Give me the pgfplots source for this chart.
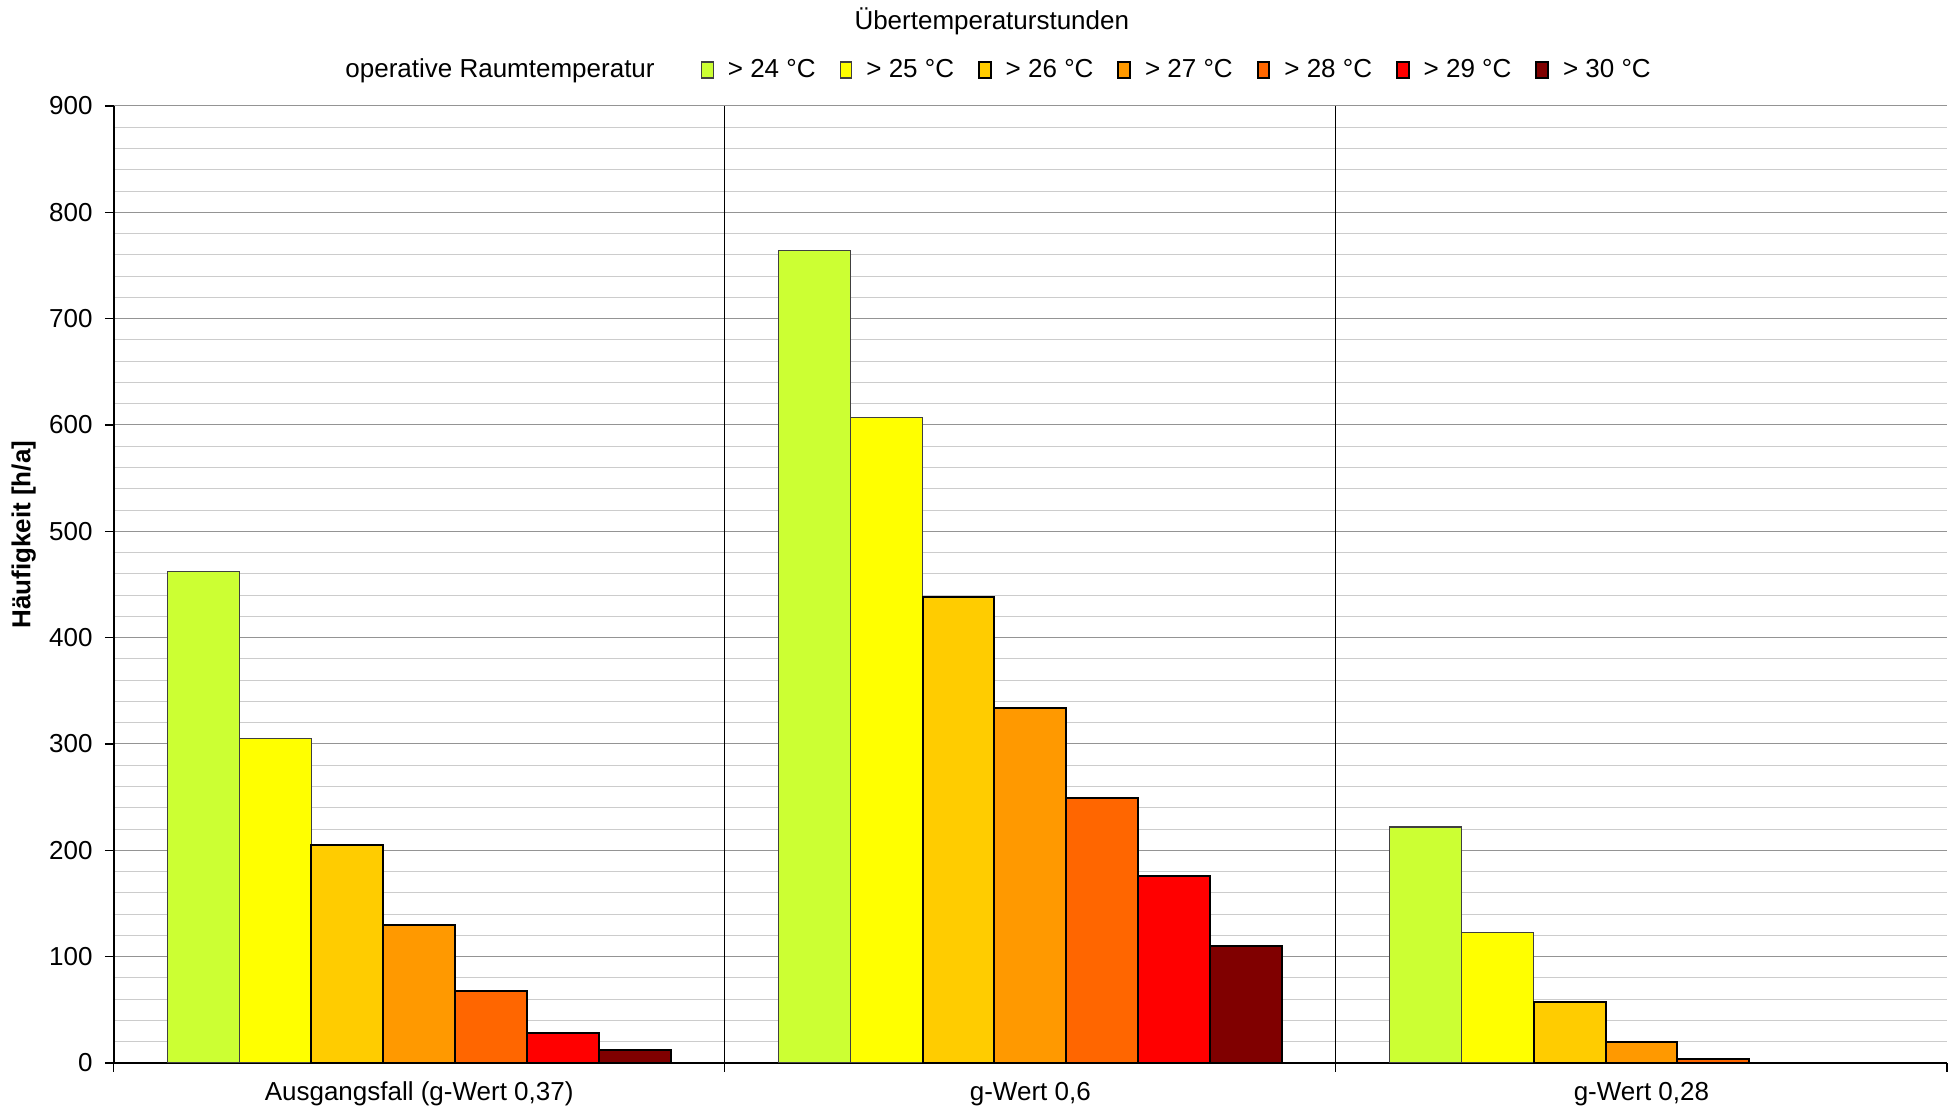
\documentclass[border=0pt]{standalone}
\usepackage{fontspec}
\setmainfont{Liberation Sans}
\usepackage{pgfplots}
\pgfplotsset{compat=1.18}

\definecolor{c24}{RGB}{204,255,51}
\definecolor{c25}{RGB}{255,255,0}
\definecolor{c26}{RGB}{255,204,0}
\definecolor{c27}{RGB}{255,153,0}
\definecolor{c28}{RGB}{255,102,0}
\definecolor{c29}{RGB}{255,0,0}
\definecolor{c30}{RGB}{128,0,0}

\newcommand{\fs}{\fontsize{13}{15}\selectfont}

\begin{document}
\begin{tikzpicture}
\begin{axis}[
    scale only axis,
    width=916.7pt, height=478.5pt,
    ybar=0pt, bar width=0.1176,
    xmin=-0.5, xmax=2.5,
    ymin=0, ymax=900,
    axis lines*=left,
    axis line style={black, line width=1pt},
    xtick={-0.5,0.5,1.5,2.5},
    xticklabels={},
    extra x ticks={0,1,2},
    extra x tick labels={{Ausgangsfall (g-Wert 0,37)}, {g-Wert 0,6}, {g-Wert 0,28}},
    extra x tick style={major tick length=0pt, xticklabel style={yshift=-6pt}},
    ytick={0,100,...,900},
    minor y tick num=4,
    minor tick length=0pt,
    major tick length=4.4pt,
    tick align=outside,
    tick style={black, line width=0.6pt},
    ymajorgrids, yminorgrids,
    major grid style={black!42, line width=0.5pt},
    minor grid style={black!20, line width=0.5pt},
    tick label style={font=\fs},
    yticklabel style={xshift=-2.6pt},
    /pgf/number format/assume math mode=true,
    title={Übertemperaturstunden},
    title style={at={(0.479,1.0756)}, anchor=center, font=\fs},
    ylabel={Häufigkeit [h/a]},
    ylabel style={at={(axis description cs:-0.049,0.552)}, anchor=center, font=\bfseries\fs},
    legend columns=-1,
    legend style={at={(0.4797,1.0376)}, anchor=center, draw=none, fill=none,
        font=\fs, inner sep=0pt,
        /tikz/every odd column/.append style={column sep=5pt},
        /tikz/every even column/.append style={column sep=10pt}},
    legend image code/.code={\draw[#1] (0pt,-4pt) rectangle (5.8pt,4pt);},
]
\addlegendimage{empty legend}
\addlegendentry{operative Raumtemperatur\hspace*{11.2pt}}

\addplot[fill=c24, draw=black!75, line width=0.6pt] coordinates {(0,462) (1,764) (2,222)};
\addlegendentry{> 24 °C}
\addplot[fill=c25, draw=black!75, line width=0.6pt] coordinates {(0,305) (1,607) (2,123)};
\addlegendentry{> 25 °C}
\addplot[fill=c26, draw=black, line width=1pt] coordinates {(0,205) (1,438) (2,57)};
\addlegendentry{> 26 °C}
\addplot[fill=c27, draw=black, line width=1pt] coordinates {(0,130) (1,334) (2,20)};
\addlegendentry{> 27 °C}
\addplot[fill=c28, draw=black, line width=1pt] coordinates {(0,68) (1,249) (2,4)};
\addlegendentry{> 28 °C}
\addplot[fill=c29, draw=black, line width=1pt] coordinates {(0,28) (1,176)};
\addlegendentry{> 29 °C}
\addplot[fill=c30, draw=black, line width=1pt] coordinates {(0,12) (1,110)};
\addlegendentry{> 30 °C}

\draw[black, line width=0.6pt] (axis cs:0.5,0) -- (axis cs:0.5,900);
\draw[black, line width=0.6pt] (axis cs:1.5,0) -- (axis cs:1.5,900);
\end{axis}
\pgfresetboundingbox
\path (-56.8pt,-24pt) rectangle (921.2pt,531.5pt);
\end{tikzpicture}
\end{document}
